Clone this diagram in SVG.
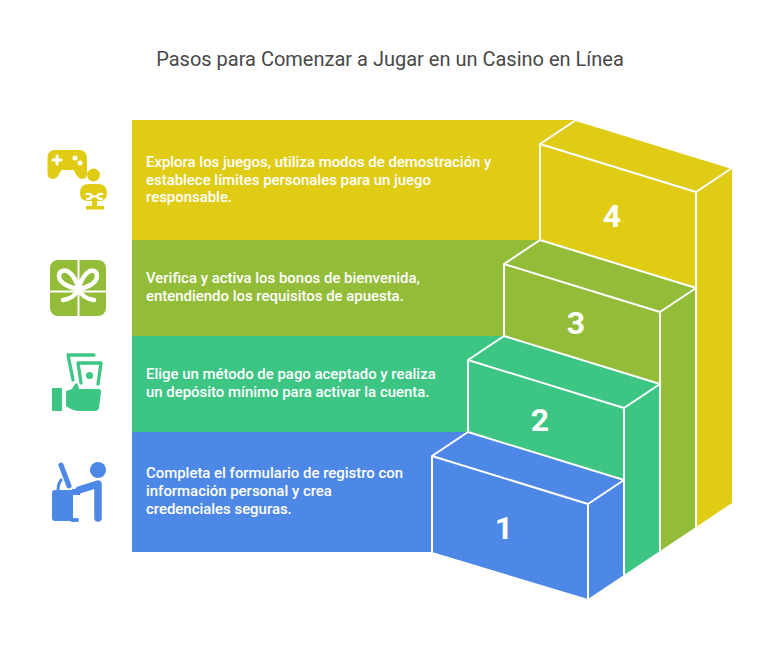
<svg xmlns="http://www.w3.org/2000/svg" width="780" height="648" viewBox="0 0 780 648">
<style>
.t{font-family:Roboto,"Liberation Sans",sans-serif;font-size:14.930px;font-weight:500;fill:#fff}
.n{font-family:Roboto,"Liberation Sans",sans-serif;font-size:32px;font-weight:700;fill:#fff;text-anchor:middle}
.e{stroke:#fff;stroke-width:2;stroke-linejoin:round;fill:none}
.y{fill:#E0CB15}.g{fill:#93BD39}.c{fill:#3CC583}.b{fill:#4E88E7}
</style>
<rect width="780" height="648" fill="#fff"/>
<text x="390" y="66" text-anchor="middle" font-family="Roboto,'Liberation Sans',sans-serif" font-size="20" fill="#484848">Pasos para Comenzar a Jugar en un Casino en Línea</text>
<g id="step4">
<path class="y" d="M132 120H576L732 168V503L696 527V288L540 240H132Z"/>
<path class="e" d="M540 240V144L696 192V288M540 144L576 120L732 168L696 192"/>
<text class="n" x="612" y="227">4</text>
<text class="t"><tspan x="146" y="167">Explora los juegos, utiliza modos de demostración y</tspan><tspan x="146" y="184.500">establece límites personales para un juego</tspan><tspan x="146" y="202">responsable.</tspan></text>
</g>
<g id="step3">
<path class="g" d="M132 240H540L696 288V527L660 551V384L504 336H132Z"/>
<path class="e" d="M504 336V264L660 312V384M504 264L540 240L696 288L660 312"/>
<path class="e" d="M696 288V527"/>
<text class="n" x="576" y="334">3</text>
<text class="t"><tspan x="146" y="283">Verifica y activa los bonos de bienvenida,</tspan><tspan x="146" y="301">entendiendo los requisitos de apuesta.</tspan></text>
</g>
<g id="step2">
<path class="c" d="M132 336H504L660 384V551L624 575V480L468 432H132Z"/>
<path class="e" d="M468 432V360L624 408V480M468 360L504 336L660 384L624 408"/>
<path class="e" d="M660 384V551"/>
<text class="n" x="540" y="431">2</text>
<text class="t"><tspan x="146" y="379">Elige un método de pago aceptado y realiza</tspan><tspan x="146" y="397">un depósito mínimo para activar la cuenta.</tspan></text>
</g>
<g id="step1">
<path class="b" d="M132 432H468L624 480V575L588 599L432 552H132Z"/>
<path class="e" d="M432 552V456L588 504V599M624 575V480M432 456L468 432L624 480L588 504"/>
<text class="n" x="504" y="539">1</text>
<text class="t"><tspan x="146" y="478">Completa el formulario de registro con</tspan><tspan x="146" y="496">información personal y crea</tspan><tspan x="146" y="513.500">credenciales seguras.</tspan></text>
</g>
<g id="icon4">
<path class="y" d="M55 150H79Q87 150 87 159V173Q87 179 82 179Q79 179 77 176L73.500 170H61.500L58 176Q56 179 53 179Q47.500 179 47.500 173V158Q47.500 150 55 150Z"/>
<path d="M53 160H61M57 156V164" stroke="#fff" stroke-width="3" stroke-linecap="round" fill="none"/>
<circle cx="75" cy="158" r="2.500" fill="#fff"/><circle cx="80" cy="163" r="2.500" fill="#fff"/>
<circle class="y" cx="93.500" cy="175" r="6.500"/>
<path class="y" d="M89 184H98Q107 184 107 193Q107 201 99 201H97V206H104V209.500H86V206H92V201H88Q80 201 80 193Q80 184 89 184Z"/>
<path d="M86.500 194Q91 193 92 196.500H97Q98 193 102.500 194M92 196.500Q91 199 87 199M97 196.500Q98 199 102 199" stroke="#fff" stroke-width="2.200" stroke-linecap="round" fill="none"/>
</g>
<g id="icon3">
<rect class="g" x="50" y="260" width="56" height="56" rx="8"/>
<path d="M78.500 260V316M50 291.500H106" stroke="#fff" stroke-width="2" fill="none"/>
<path d="M78.500 289C70 288 59 283 59 276C59 270 66 269 70 273C75 277 77 283 78.500 289C80 283 83 277 87 273C91 269 97 270 97 276C97 283 87 288 78.500 289C76 295 70 299 63 300M78.500 289C81 295 87 299 94 300" stroke="#fff" stroke-width="4.500" stroke-linecap="round" stroke-linejoin="round" fill="none"/>
</g>
<g id="icon2">
<rect class="c" x="52" y="388" width="10" height="23" rx="1"/>
<path class="c" d="M66 391L72 389L75 384Q77 382 78 385L79 389H99Q101 389 101 392L99 408Q98 411 95 411H80Q72 411 66 406Z"/>
<path d="M68 355H94M68 355L73 380M78 363H101L98 384M78 363L81 383" stroke="#3CC583" stroke-width="3.300" stroke-linecap="round" stroke-linejoin="round" fill="none"/>
<circle class="c" cx="89.500" cy="375.500" r="3.500"/>
</g>
<g id="icon1">
<circle class="b" cx="98" cy="470" r="8"/>
<path class="b" d="M52 493Q52 490 55 490H73V521H55Q52 521 52 518Z"/>
<rect class="b" x="70" y="518" width="9" height="4" rx="2"/>
<path d="M61 465L69 486" stroke="#4E88E7" stroke-width="5" stroke-linecap="round" fill="none"/>
<path d="M58 490Q58 483 62 479" stroke="#4E88E7" stroke-width="3" fill="none"/>
<path d="M79 490L98 484V518" stroke="#4E88E7" stroke-width="7.500" stroke-linecap="round" stroke-linejoin="round" fill="none"/>
<rect class="b" x="72" y="489" width="8" height="6"/>
</g>
</svg>
